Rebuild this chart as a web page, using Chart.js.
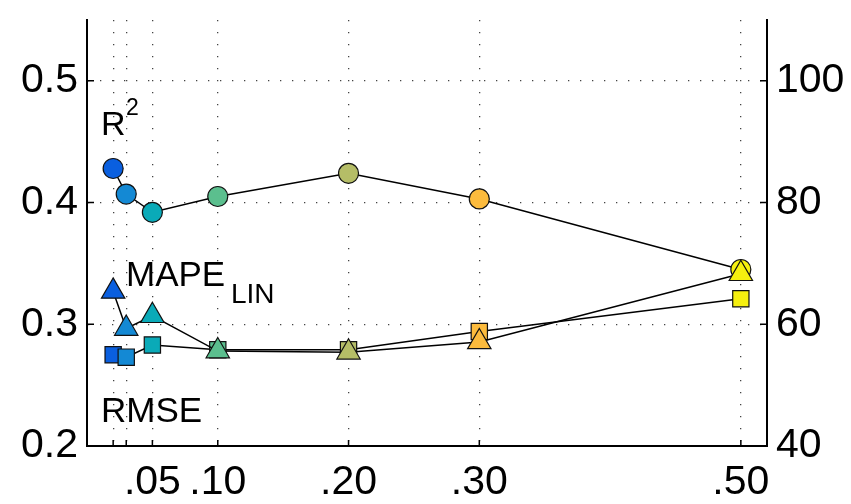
<!DOCTYPE html>
<html>
<head>
<meta charset="utf-8">
<script src="https://cdn.jsdelivr.net/npm/chart.js@4"></script>
<style>
  html, body { margin:0; padding:0; background:#fff; }
  #wrap { position:relative; width:851px; height:504px; }
  .lbl { position:absolute; font-family:"Liberation Sans", Arial, sans-serif; color:#000; line-height:1; white-space:nowrap; }
</style>
</head>
<body>
<div id="wrap">
  <canvas id="chart" width="851" height="504"></canvas>
  <div class="lbl" style="left:101px; top:106px; font-size:34px;">R</div>
  <div class="lbl" style="left:126px; top:96px; font-size:23px;">2</div>
  <div class="lbl" style="left:126px; top:256px; font-size:35px;">MAPE</div>
  <div class="lbl" style="left:231px; top:280px; font-size:28px;">LIN</div>
  <div class="lbl" style="left:101px; top:392px; font-size:35px;">RMSE</div>
</div>
<script>
const xValues = [0.02, 0.03, 0.05, 0.10, 0.20, 0.30, 0.50];

const r2 = [0.428, 0.407, 0.392, 0.405, 0.424, 0.403, 0.345];
const mapeLin = [65.4, 59.3, 61.4, 55.6, 55.4, 57.1, 68.3];
const rmse = [0.275, 0.273, 0.283, 0.279, 0.279, 0.294, 0.321];

const leftTicks = [0.2, 0.3, 0.4, 0.5];
const rightTicks = [40, 60, 80, 100];
const xLabelFrom = 0.05;

const pointColors = ["#0a5fdf", "#1489d4", "#0aaab8", "#5bbf8e", "#b5bd67", "#fcbb3d", "#f6f00f"];

const fontFamily = '"Liberation Sans", Arial, sans-serif';

function toPoints(ys){
  return xValues.map((x, i) => ({x: x, y: ys[i]}));
}

// inward tick marks, drawn from the scales
const innerTicks = {
  id: "innerTicks",
  afterDraw(chart){
    const c = chart.ctx;
    const a = chart.chartArea;
    const xs = chart.scales.x;
    const yl = chart.scales.y;
    const yr = chart.scales.y1;
    c.save();
    c.strokeStyle = "#000";
    c.lineWidth = 1.5;
    c.beginPath();
    xValues.forEach(v => {
      const px = xs.getPixelForValue(v);
      c.moveTo(px, a.bottom);
      c.lineTo(px, a.bottom - 6);
    });
    leftTicks.forEach(v => {
      const py = yl.getPixelForValue(v);
      c.moveTo(a.left, py);
      c.lineTo(a.left + 7, py);
    });
    rightTicks.forEach(v => {
      const py = yr.getPixelForValue(v);
      c.moveTo(a.right, py);
      c.lineTo(a.right - 7, py);
    });
    c.stroke();
    c.restore();
  }
};

const common = {
  showLine: true,
  borderColor: "#000",
  borderWidth: 1.5,
  pointBorderColor: "#111",
  pointBorderWidth: 1.2,
  pointBackgroundColor: pointColors,
  fill: false,
  tension: 0
};

function noPad(s){
  s.paddingTop = 0;
  s.paddingBottom = 0;
  s.paddingLeft = 0;
  s.paddingRight = 0;
}

new Chart(document.getElementById("chart"), {
  type: "scatter",
  data: {
    datasets: [
      Object.assign({}, common, {
        label: "MAPE LIN",
        data: toPoints(mapeLin),
        yAxisID: "y1",
        pointStyle: "triangle",
        pointRadius: 13.5,
        pointHoverRadius: 13.5
      }),
      Object.assign({}, common, {
        label: "RMSE",
        data: toPoints(rmse),
        yAxisID: "y",
        pointStyle: "rect",
        pointRadius: 11.5,
        pointHoverRadius: 11.5
      }),
      Object.assign({}, common, {
        label: "R2",
        data: toPoints(r2),
        yAxisID: "y",
        pointStyle: "circle",
        pointRadius: 10,
        pointHoverRadius: 10
      })
    ]
  },
  options: {
    responsive: false,
    animation: false,
    events: [],
    layout: { padding: { top: 20, left: 0, right: 0, bottom: 0 } },
    plugins: {
      legend: { display: false },
      tooltip: { enabled: false }
    },
    scales: {
      x: {
        type: "linear",
        min: 0,
        max: 0.52,
        afterBuildTicks: s => { s.ticks = xValues.map(v => ({value: v})); },
        afterFit: s => { s.height = 58; noPad(s); },
        ticks: {
          autoSkip: false,
          maxRotation: 0,
          padding: 12,
          color: "#000",
          font: { family: fontFamily, size: 41 },
          callback: v => v >= xLabelFrom - 1e-9 ? "." + Math.round(v * 100).toString().padStart(2, "0") : ""
        },
        grid: { color: "#444", lineWidth: 1.3, drawTicks: false },
        border: { color: "#000", width: 2, dash: [1.3, 10.7] }
      },
      y: {
        position: "left",
        min: 0.2,
        max: 0.55,
        afterBuildTicks: s => { s.ticks = leftTicks.map(v => ({value: v})); },
        afterFit: s => { s.width = 87; noPad(s); },
        ticks: {
          padding: 9,
          color: "#000",
          font: { family: fontFamily, size: 41 },
          callback: v => v.toFixed(1)
        },
        grid: { color: "#444", lineWidth: 1.3, drawTicks: false },
        border: { color: "#000", width: 2, dash: [1.3, 10.7] }
      },
      y1: {
        position: "right",
        min: 40,
        max: 110,
        afterBuildTicks: s => { s.ticks = rightTicks.map(v => ({value: v})); },
        afterFit: s => { s.width = 84; noPad(s); },
        ticks: {
          padding: 9,
          color: "#000",
          font: { family: fontFamily, size: 41 },
          callback: v => String(v)
        },
        grid: { display: false, drawTicks: false },
        border: { color: "#000", width: 2 }
      }
    }
  },
  plugins: [innerTicks]
});
</script>
</body>
</html>
